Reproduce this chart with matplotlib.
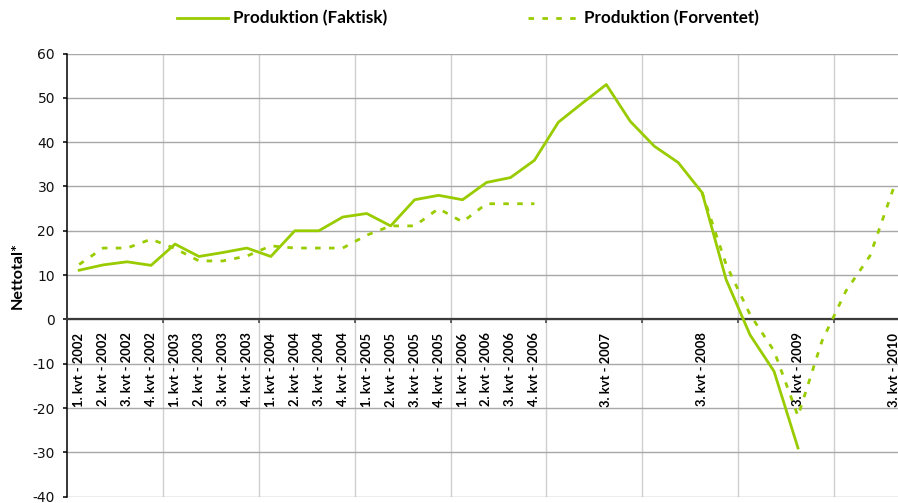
import numpy as np
import matplotlib
matplotlib.use("Agg")
import matplotlib.pyplot as plt
from matplotlib.ticker import FixedLocator

plt.rcParams["axes.unicode_minus"] = False
nan = np.nan

# quarters 1. kvt 2002 .. 3. kvt 2010 (35 categories), only some are labelled
tick_labels = [
    "1. kvt - 2002", "2. kvt - 2002", "3. kvt - 2002", "4. kvt - 2002",
    "1. kvt - 2003", "2. kvt - 2003", "3. kvt - 2003", "4. kvt - 2003",
    "1. kvt - 2004", "2. kvt - 2004", "3. kvt - 2004", "4. kvt - 2004",
    "1. kvt - 2005", "2. kvt - 2005", "3. kvt - 2005", "4. kvt - 2005",
    "1. kvt - 2006", "2. kvt - 2006", "3. kvt - 2006", "4. kvt - 2006",
    "", "", "3. kvt - 2007", "",
    "", "", "3. kvt - 2008", "",
    "", "", "3. kvt - 2009", "",
    "", "", "3. kvt - 2010",
]

faktisk = [11.1, 12.3, 13.0, 12.2, 17.0, 14.2, 15.1, 16.1,
           14.2, 20.0, 20.0, 23.1, 23.9, 21.1, 27.0, 28.0,
           27.0, 30.9, 32.0, 35.9, 44.5, 48.8, 53.0, 44.7,
           39.1, 35.4, 28.6, 9.0, -3.5, -11.7, -29.0, nan,
           nan, nan, nan]

forventet = [12.4, 16.1, 16.1, 18.1, 16.0, 13.2, 13.2, 14.3,
             16.6, 16.1, 16.1, 16.1, 19.0, 21.1, 21.1, 25.0,
             22.0, 26.1, 26.1, 26.1, nan, nan, nan, nan,
             nan, nan, 28.6, 12.4, 1.1, -7.1, -21.8, -4.9,
             6.4, 14.3, 29.8]

green = "#99cc00"
label_font = "Lato"

fig = plt.figure(figsize=(8.98, 5.03), dpi=100)
W, H = 898, 503
# plot area runs past the right edge of the picture (cropped chart)
ax = fig.add_axes([67.2 / W, (H - 496.7) / H, 838.6 / W, 443.2 / H])

x = np.arange(len(tick_labels))
ax.plot(x, faktisk, color=green, lw=2.0, label="Produktion (Faktisk)", zorder=3)
ax.plot(x, forventet, color=green, lw=2.0, linestyle=(0, (2.0, 3.0)),
        label="Produktion (Forventet)", zorder=3)

ax.set_xlim(-0.5, len(tick_labels) - 0.5)
ax.set_ylim(-40, 60)
ax.set_yticks(range(-40, 61, 10))

# category axis sits on the zero line
for s in ["top", "right"]:
    ax.spines[s].set_visible(False)
ax.spines["bottom"].set_position(("data", 0))
ax.spines["bottom"].set_color("#3a3a3a")
ax.spines["bottom"].set_linewidth(1.6)
ax.spines["left"].set_color("black")
ax.spines["left"].set_linewidth(1.1)

ax.set_xticks(x)
ax.set_xticklabels(tick_labels, rotation=90, fontfamily=label_font,
                   fontweight="bold", fontsize=9.4)
ax.xaxis.set_minor_locator(FixedLocator(np.arange(3.5, len(tick_labels), 4)))
ax.tick_params(axis="x", which="major", length=0, pad=9.5)
ax.tick_params(axis="x", which="minor", length=3, width=1.1, color="#3a3a3a",
               direction="out")
ax.tick_params(axis="y", length=3, width=1.1, pad=5.8, labelsize=10,
               labelcolor="#111111")

ax.yaxis.grid(True, color="#a8a8a8", lw=1.0)
ax.xaxis.grid(True, which="minor", color="#cfcfcf", lw=1.0)
ax.set_axisbelow(True)

ax.set_ylabel("Nettotal*", fontfamily=label_font, fontweight="bold", fontsize=11.6)
ax.yaxis.set_label_coords(-0.051, 0.5)

fig.legend(loc="center left", bbox_to_anchor=(177 / W, 1 - 18.5 / H), ncol=2,
           frameon=False, borderpad=0, borderaxespad=0,
           prop={"family": label_font, "weight": "bold", "size": 12.3},
           handlelength=3.0, handletextpad=0.3, columnspacing=8.2)

fig.savefig("out.png", dpi=100)
